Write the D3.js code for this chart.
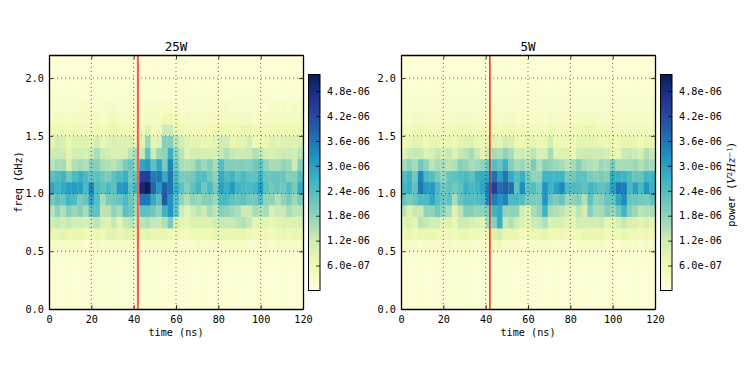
<!DOCTYPE html>
<html><head><meta charset="utf-8">
<script src="https://cdn.jsdelivr.net/npm/d3@7"></script>
<style>html,body{margin:0;padding:0;background:#fff}svg{display:block}
text{font-family:"DejaVu Sans Mono",monospace;fill:#000}</style></head>
<body><div id="c"></div>
<script>
// values in units of 1e-7 V^2/Hz, 45 time bins per row
const titles = ["25W", "5W"];
const xTicks = [0,20,40,60,80,100,120];
const yTicks = [0,0.5,1,1.5,2];
const cbTicks = [6e-7,1.2e-6,1.8e-6,2.4e-6,3.0e-6,3.6e-6,4.2e-6,4.8e-6];
const cbLabels = ["6.0e-07","1.2e-06","1.8e-06","2.4e-06","3.0e-06","3.6e-06","4.2e-06","4.8e-06"];
const markerTime = 42;
const palette = ["#ffffd9","#edf8b1","#c7e9b4","#7fcdbb","#41b6c4","#1d91c0","#225ea8","#253494","#081d58"];
const vMax = 52;

const a05 = [3,3,3,3,3,3,2,3,3,2,3,3,3,3,3,3,3,3,3,3,3,3,3,2,2,2,3,2,3,3,3,3,3,3,3,2,2,2,3,2,3,3,3,3,3];
const a06 = [7,7,8,7,7,7,6,5,7,6,8,8,7,8,8,7,7,8,7,7,7,6,6,5,5,6,6,6,6,7,7,7,7,7,7,6,5,5,6,5,6,7,6,7,7];
const a07 = [11,13,11,13,11,11,10,13,14,10,9,13,8,13,14,11,14,15,13,13,15,20,11,8,7,9,9,9,9,11,13,12,13,14,15,13,8,8,8,7,8,9,9,9,10];
const a08 = [14,18,15,19,17,19,16,23,23,14,14,18,16,23,21,16,23,23,21,18,26,32,23,12,8,12,14,12,16,14,19,18,17,16,12,12,16,15,16,10,12,13,16,14,14];
const a09 = [20,23,22,26,25,20,22,30,24,16,20,21,22,25,21,18,36,36,28,24,40,32,24,18,15,18,17,19,19,17,25,25,23,22,23,21,21,24,18,18,15,18,20,17,20];
const a10 = [29,26,28,30,31,30,25,34,25,23,25,23,31,32,23,26,49,52,38,31,39,36,27,23,19,23,26,21,25,20,30,27,31,26,25,25,26,31,23,21,22,21,24,20,28];
const a11 = [23,25,26,21,25,27,25,23,23,21,20,23,25,27,21,22,43,44,35,36,28,36,25,20,20,21,24,24,21,18,28,25,26,23,25,23,23,27,22,22,22,22,19,19,24];
const a12 = [14,16,16,10,15,16,15,19,19,16,15,14,16,20,22,17,29,31,23,29,20,34,21,16,15,16,19,17,19,16,24,19,19,19,19,19,21,23,18,16,16,18,17,12,19];
const a13 = [11,12,12,8,11,11,10,13,16,12,11,10,10,10,14,16,13,23,12,17,18,27,18,14,9,11,11,10,10,10,13,15,13,12,12,13,15,14,10,10,11,12,12,11,14];
const a14 = [8,11,10,7,9,9,9,8,11,7,9,10,9,9,10,7,8,17,8,9,19,19,14,11,9,8,8,7,7,8,11,11,7,8,8,11,6,6,7,9,8,9,9,9,10];
const a15 = [6,6,6,5,6,6,5,5,6,5,6,7,6,5,6,5,5,9,5,5,12,12,7,6,5,5,5,5,5,6,6,6,5,6,7,7,5,5,5,6,6,6,6,6,7];
const a16 = [3,4,4,3,4,4,4,3,4,3,4,5,4,3,4,4,3,4,4,4,6,6,5,4,4,3,3,3,4,4,4,4,4,4,4,4,3,3,4,4,4,4,4,4,5];
const a17 = [2,2,2,2,2,3,3,2,2,2,3,3,2,2,2,2,2,3,3,3,3,3,3,2,2,2,2,2,2,2,3,3,2,2,2,2,2,2,2,3,3,3,2,3,3];
const bottom25 = [1,1,1,1,1.5];   // 0.0 to 0.5 GHz
const top25 = [1.5,1,0.8,0.8];    // 1.8 to 2.2 GHz

const b05 = [3,3,3,2,3,3,3,2,3,2,3,3,3,2,2,3,4,5,3,3,3,2,2,3,3,3,3,2,2,2,2,3,3,3,3,3,2,2,2,3,3,3,2,3,2];
const b06 = [6,7,6,7,7,7,6,5,6,5,7,7,6,6,5,7,9,11,7,7,7,5,5,7,7,8,6,6,6,5,5,6,7,7,7,7,5,5,6,7,6,6,5,6,5];
const b07 = [8,10,8,14,13,11,11,8,9,7,12,12,10,9,8,16,19,27,13,15,12,9,8,12,13,15,10,10,10,8,8,11,11,11,11,12,8,8,10,13,10,9,8,10,8];
const b08 = [14,9,13,12,18,18,21,18,16,9,14,19,19,18,18,19,26,28,18,18,18,11,9,16,18,26,16,15,14,12,10,14,11,19,16,16,19,17,21,26,19,17,14,15,16];
const b09 = [22,20,22,25,25,29,24,22,23,16,22,24,24,24,25,34,35,32,34,25,25,24,20,20,20,32,22,20,22,17,18,19,15,23,18,19,22,22,29,33,22,22,21,20,23];
const b10 = [26,27,23,36,31,31,25,21,23,21,23,27,25,26,29,35,44,37,39,37,23,33,23,24,21,32,26,30,33,25,25,24,23,26,24,23,24,30,36,35,25,30,25,32,27];
const b11 = [24,26,21,34,25,24,20,18,22,23,24,25,23,27,28,29,37,30,36,28,24,27,21,18,18,26,26,26,26,20,21,23,23,20,19,20,19,28,27,26,24,22,22,26,26];
const b12 = [16,18,16,21,18,14,16,16,14,15,19,18,16,17,18,22,24,22,27,19,16,17,15,20,15,19,18,17,16,14,16,19,16,15,14,17,16,20,16,16,16,17,15,17,16];
const b13 = [9,12,13,13,9,10,13,11,13,9,13,14,16,12,8,12,16,15,18,16,11,12,11,14,10,10,16,9,9,9,6,11,12,12,12,12,11,8,7,12,13,12,10,15,13];
const b14 = [6,7,8,8,6,7,7,6,7,6,8,9,9,7,6,8,9,8,11,10,7,6,7,8,7,7,11,6,6,6,5,8,8,8,7,7,7,6,6,7,7,7,6,7,7];
const b15 = [5,5,6,6,5,5,5,5,5,5,6,6,6,5,5,5,6,5,6,6,5,5,5,5,5,5,6,5,5,5,5,6,7,7,6,5,5,5,5,5,5,5,5,5,5];
const b16 = [3,3,4,4,3,3,3,3,3,3,4,4,4,3,3,3,4,3,4,4,3,3,3,3,3,3,4,3,3,3,3,4,4,4,4,3,3,3,3,3,3,3,3,3,3];
const b17 = [2,2,2,2,2,2,2,2,2,2,2,2,2,2,2,2,3,2,2,2,2,2,2,2,2,2,2,2,2,2,2,2,2,2,2,2,2,2,2,2,2,2,2,2,2];
const bottom5 = [1,1,1,1,1.5];
const top5 = [1.5,1,0.8,0.8];

const bins = a10.length, freqStep = 0.1;
const panels = [
  {title:titles[0], rows:[a05,a06,a07,a08,a09,a10,a11,a12,a13,a14,a15,a16,a17], bottom:bottom25, top:top25, left:49, lineColor:"#ff5555", lineWidth:2},
  {title:titles[1], rows:[b05,b06,b07,b08,b09,b10,b11,b12,b13,b14,b15,b16,b17], bottom:bottom5, top:top5, left:401, lineColor:"#f00000", lineWidth:1.3}
];

const W=747,H=374,pw=254,ph=254,pt=55;
const svg=d3.select("#c").append("svg").attr("width",W).attr("height",H);
const defs=svg.append("defs");
defs.append("filter").attr("id","soft").attr("x",0).attr("y",0).attr("width",1).attr("height",1)
  .append("feGaussianBlur").attr("stdDeviation",0.6);
const color=d3.scaleLinear().domain(palette.map((_,i)=>i/(palette.length-1)*vMax)).range(palette).interpolate(d3.interpolateRgb);
const fs=10.2;

panels.forEach((p,pi)=>{
  const x=d3.scaleLinear().domain([0,120]).range([p.left,p.left+pw]);
  const y=d3.scaleLinear().domain([0,2.2]).range([pt+ph,pt]);
  const g=svg.append("g");
  const all=[...p.bottom.map(v=>d3.range(bins).map(()=>v)),...p.rows,...p.top.map(v=>d3.range(bins).map(()=>v))];
  const cells=all.flatMap((row,r)=>row.map((v,c)=>({r,c,v})));
  g.append("g").attr("filter","url(#soft)").selectAll("rect.cell").data(cells).join("rect").attr("class","cell")
    .attr("x",d=>x(d.c*120/bins)).attr("width",d=>x((d.c+1)*120/bins)-x(d.c*120/bins)+0.3)
    .attr("y",d=>y((d.r+1)*freqStep)).attr("height",d=>y(d.r*freqStep)-y((d.r+1)*freqStep)+0.3)
    .attr("fill",d=>color(d.v));
  // grid
  const grid=g.append("g").attr("stroke","#000").attr("stroke-width",0.8).attr("stroke-dasharray","1 3").attr("opacity",0.75);
  xTicks.slice(1,-1).forEach(t=>grid.append("line").attr("x1",x(t)).attr("x2",x(t)).attr("y1",pt).attr("y2",pt+ph));
  yTicks.slice(1).forEach(t=>grid.append("line").attr("x1",p.left).attr("x2",p.left+pw).attr("y1",y(t)).attr("y2",y(t)));
  // marker
  g.append("line").attr("x1",x(markerTime)).attr("x2",x(markerTime)).attr("y1",pt).attr("y2",pt+ph)
    .attr("stroke",p.lineColor).attr("stroke-width",p.lineWidth);
  // axes
  const style=(a)=>{a.selectAll("text").attr("font-size",fs).attr("font-family",'"DejaVu Sans Mono"');a.selectAll("path,line").attr("stroke","#000").attr("stroke-width",0.8);a.select(".domain").attr("stroke-width",1.3);};
  svg.append("g").attr("transform",`translate(0,${pt+ph})`).call(d3.axisBottom(x).tickValues(xTicks).tickFormat(d3.format("d")).tickSizeInner(-4).tickSizeOuter(0).tickPadding(7)).call(style);
  svg.append("g").attr("transform",`translate(0,${pt})`).call(d3.axisTop(x).tickValues(xTicks).tickFormat("").tickSizeInner(-4).tickSizeOuter(0)).call(style);
  svg.append("g").attr("transform",`translate(${p.left},0)`).call(d3.axisLeft(y).tickValues(yTicks).tickFormat(d3.format(".1f")).tickSizeInner(-4).tickSizeOuter(0).tickPadding(5)).call(style);
  svg.append("g").attr("transform",`translate(${p.left+pw},0)`).call(d3.axisRight(y).tickValues(yTicks).tickFormat("").tickSizeInner(-4).tickSizeOuter(0)).call(style);
  svg.append("text").attr("x",p.left+pw/2).attr("y",51).attr("text-anchor","middle").attr("font-size",12.5).text(p.title);
  svg.append("text").attr("x",p.left+pw/2).attr("y",336).attr("text-anchor","middle").attr("font-size",fs).text("time (ns)");
  if(pi===0) svg.append("text").attr("transform",`translate(22,${pt+ph/2}) rotate(-90)`).attr("text-anchor","middle").attr("font-size",fs).text("freq (GHz)");
  // colorbar
  const cx=p.left+pw+5.5,cw=11.5,cTop=74.5,cBot=290.5;
  const cs=d3.scaleLinear().domain([0,vMax*1e-7]).range([cBot,cTop]);
  const gid="grad"+pi;
  const lg=defs.append("linearGradient").attr("id",gid).attr("x1",0).attr("x2",0).attr("y1",1).attr("y2",0);
  palette.forEach((c,i)=>lg.append("stop").attr("offset",i/(palette.length-1)).attr("stop-color",c));
  svg.append("rect").attr("x",cx).attr("y",cTop).attr("width",cw).attr("height",cBot-cTop).attr("fill",`url(#${gid})`).attr("stroke","#000").attr("stroke-width",1);
  svg.append("g").attr("transform",`translate(${cx+cw},0)`).call(d3.axisRight(cs).tickValues(cbTicks).tickFormat((d,i)=>cbLabels[i]).tickSizeInner(-4).tickSizeOuter(0).tickPadding(7)).call(style).call(a=>a.select(".domain").remove());
  if(pi===1){
    const t=svg.append("text").attr("transform",`translate(735,${pt+ph/2+3}) rotate(-90)`).attr("text-anchor","middle").attr("font-size",fs);
    t.append("tspan").text("power  (");
    const m=t.append("tspan").attr("font-family",'"DejaVu Serif"').attr("font-style","italic");
    m.append("tspan").text("V");
    m.append("tspan").attr("dy",-3).attr("font-size",7).attr("font-style","normal").text("2");
    m.append("tspan").attr("dy",3).text("Hz");
    m.append("tspan").attr("dy",-3).attr("font-size",7).attr("font-style","normal").text("−1");
    t.append("tspan").attr("dy",3).attr("font-family",'"DejaVu Serif"').text(")");
  }
});
</script></body></html>
